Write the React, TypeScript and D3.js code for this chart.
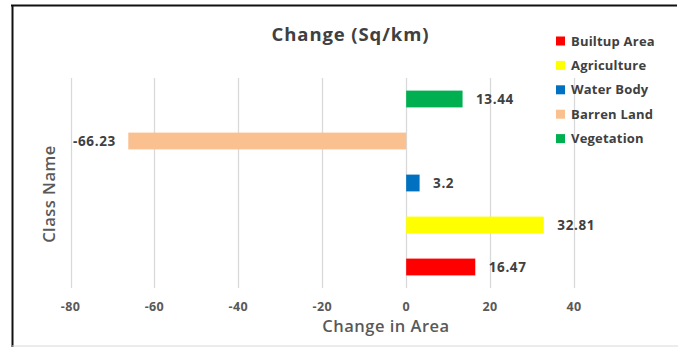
import React from "react";
import * as d3 from "d3";

// Land-cover classes, listed bottom-up as they appear on the chart
const categories = ["Builtup Area", "Agriculture", "Water Body", "Barren Land", "Vegetation"];
const changeValues = [16.47, 32.81, 3.2, -66.23, 13.44];
const classColors = ["#FF0000", "#FFFF00", "#0070C0", "#FAC090", "#00B050"];
const xTicks = [-80, -60, -40, -20, 0, 20, 40];

const W = 678;
const H = 347;
const FONT = "'Open Sans', 'Liberation Sans', sans-serif";

export default function App() {
  const x = d3.scaleLinear().domain([-80, 40]).range([70.5, 574]);
  const y = d3
    .scaleBand<string>()
    .domain([...categories].reverse())
    .range([78, 288])
    .paddingInner(0.6)
    .paddingOuter(0.3);

  const plotTop = 78;
  const plotBottom = 288;

  return (
    <svg
      width={W}
      height={H}
      viewBox={`0 0 ${W} ${H}`}
      style={{ position: "absolute", left: 0, top: 0, background: "#fff" }}
      fontFamily={FONT}
    >
      <rect x={0} y={0} width={W} height={H} fill="#fff" />

      {/* frame */}
      <line x1={11} x2={677} y1={5.5} y2={5.5} stroke="#111" strokeWidth={2} />
      <line x1={12.5} x2={12.5} y1={5} y2={H} stroke="#111" strokeWidth={2} />
      <line x1={12} x2={W} y1={346} y2={346} stroke="#D9D9D9" strokeWidth={1} />

      {/* title */}
      <text
        x={350.5}
        y={41}
        textAnchor="middle"
        fontSize={18.5}
        fontWeight={700}
        letterSpacing={0.9}
        fill="#404040"
      >
        Change (Sq/km)
      </text>

      {/* vertical gridlines */}
      {xTicks.map((t) => (
        <line
          key={`g${t}`}
          x1={Math.round(x(t)) + 0.5}
          x2={Math.round(x(t)) + 0.5}
          y1={plotTop}
          y2={plotBottom}
          stroke="#D9D9D9"
          strokeWidth={1.3}
        />
      ))}

      {/* tick labels */}
      {xTicks.map((t) => (
        <text
          key={`t${t}`}
          x={x(t)}
          y={311}
          textAnchor="middle"
          fontSize={12.5}
          fontWeight={700}
          letterSpacing={0.4}
          fill="#595959"
        >
          {t}
        </text>
      ))}

      {/* bars */}
      {categories.map((c, i) => {
        const v = changeValues[i];
        const x0 = x(Math.min(0, v));
        const x1 = x(Math.max(0, v));
        return (
          <rect
            key={`b${c}`}
            x={x0}
            y={y(c)!}
            width={x1 - x0}
            height={y.bandwidth()}
            fill={classColors[i]}
          />
        );
      })}

      {/* value labels */}
      {categories.map((c, i) => {
        const v = changeValues[i];
        const pos = v >= 0;
        return (
          <text
            key={`l${c}`}
            x={pos ? x(v) + 13.5 : x(v) - 12.5}
            y={y(c)! + y.bandwidth() / 2}
            dy="0.36em"
            textAnchor={pos ? "start" : "end"}
            fontSize={13.5}
            fontWeight={700}
            letterSpacing={0.6}
            fill="#404040"
          >
            {v}
          </text>
        );
      })}

      {/* axis titles */}
      <text
        x={386}
        y={332}
        textAnchor="middle"
        fontSize={16.5}
        fontWeight={600}
        letterSpacing={0.5}
        fill="#595959"
      >
        Change in Area
      </text>
      <text
        transform="translate(55,194) rotate(-90)"
        textAnchor="middle"
        fontSize={16.5}
        fontWeight={600}
        letterSpacing={0.5}
        fill="#595959"
      >
        Class Name
      </text>

      {/* legend */}
      {categories.map((c, i) => {
        const cy = 41 + i * 24.4;
        return (
          <g key={`lg${c}`}>
            <rect x={556} y={cy - 4.5} width={9} height={9} fill={classColors[i]} />
            <text
              x={571}
              y={cy}
              dy="0.36em"
              fontSize={13}
              fontWeight={700}
              letterSpacing={0.2}
              fill="#404040"
            >
              {c}
            </text>
          </g>
        );
      })}
    </svg>
  );
}
